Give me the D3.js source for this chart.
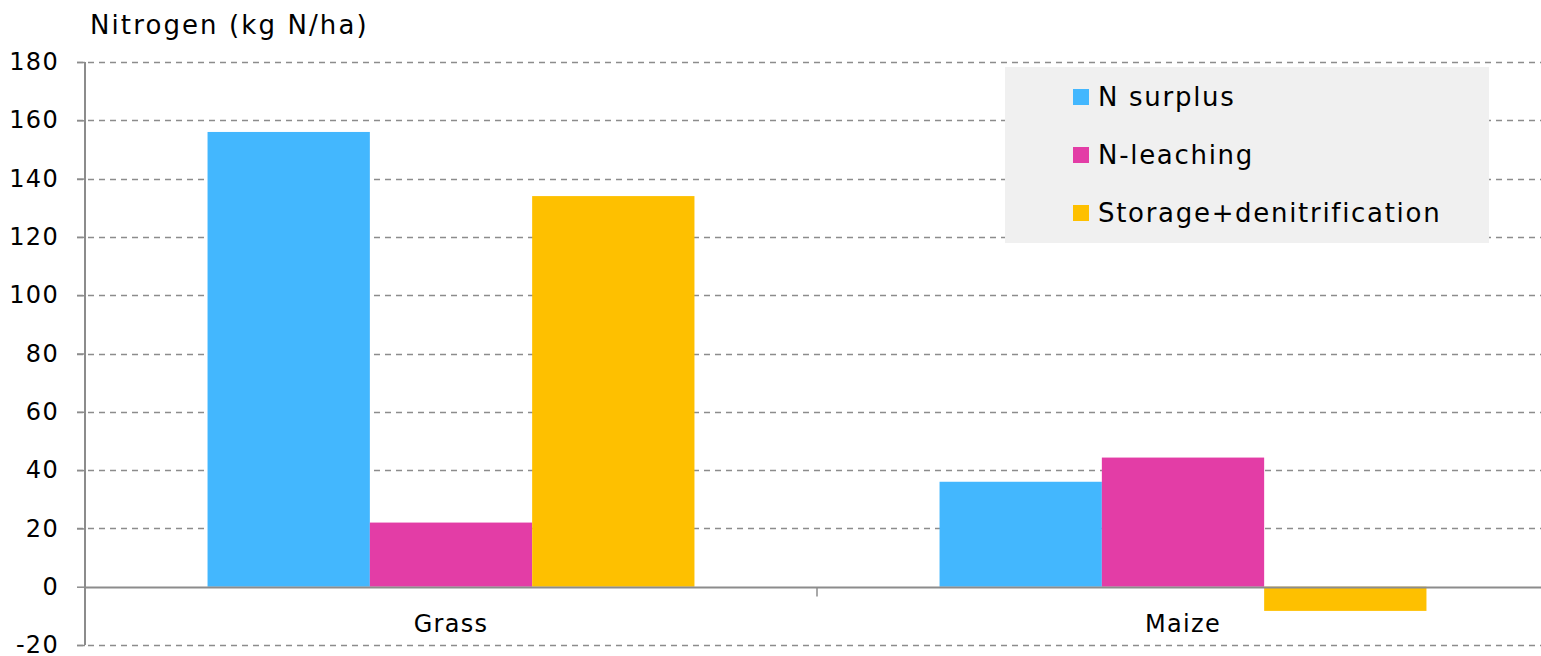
<!DOCTYPE html>
<html><head><meta charset="utf-8">
<script src="https://cdn.jsdelivr.net/npm/d3@7"></script>
<style>body{margin:0;background:#fff;} text{font-family:"DejaVu Sans",Verdana,sans-serif;fill:#000;}</style>
</head><body><svg id="c" width="1541" height="656"></svg>
<script>
const categories = ["Grass", "Maize"];
const seriesNames = ["N surplus", "N-leaching", "Storage+denitrification"];
const nSurplus = [156, 36];
const nLeaching = [22, 44.3];
const storageDenit = [134, -8.3];
const yTicks = [-20, 0, 20, 40, 60, 80, 100, 120, 140, 160, 180];
const colors = ["#43b7fe", "#e33da6", "#fec000"];
const yLabel = "Nitrogen (kg N/ha)";

const series = [nSurplus, nLeaching, storageDenit];
const svg = d3.select("#c");
const L = 85, R = 1549, T = 62, B = 645;
const y = d3.scaleLinear().domain([-20, 180]).range([B, T]);
const x = d3.scaleBand().domain(categories).range([L, R]).paddingInner(0).paddingOuter(0);
const x1 = d3.scaleBand().domain(seriesNames).range([0, x.bandwidth()]).paddingInner(0).paddingOuter(0.755);

// gridlines
svg.append("g").selectAll("line").data(yTicks.filter(d => d !== 0)).join("line")
  .attr("x1", L - 8).attr("x2", 1541).attr("y1", d => Math.round(y(d)) + 0.5).attr("y2", d => Math.round(y(d)) + 0.5)
  .attr("stroke", "#8c8c8c").attr("stroke-width", 1.5).attr("stroke-dasharray", "6,5");

// bars
const g = svg.append("g");
categories.forEach((c, i) => {
  series.forEach((s, j) => {
    const v = s[i];
    g.append("rect")
      .attr("x", x(c) + x1(seriesNames[j]))
      .attr("width", x1.bandwidth())
      .attr("y", y(Math.max(0, v)))
      .attr("height", Math.abs(y(v) - y(0)))
      .attr("fill", colors[j]);
  });
});

// y axis
const yAxis = d3.axisLeft(y).tickValues(yTicks).tickSize(8).tickPadding(18).tickFormat(d => String(d));
const ya = svg.append("g").attr("transform", `translate(${L},0)`).call(yAxis);
ya.select(".domain").attr("stroke", "#8c8c8c").attr("stroke-width", 2).attr("d", `M0,${T}V${B}`);
ya.selectAll(".tick line").attr("stroke", "#8c8c8c").attr("stroke-width", 1.5);
ya.selectAll(".tick text").style("font-size", "24px").style("letter-spacing", "1.3px").attr("fill", "#000");

// x axis at zero
const xa = svg.append("g").attr("transform", `translate(0,${Math.round(y(0)) + 0.5})`);
xa.append("line").attr("x1", L).attr("x2", 1541).attr("stroke", "#8c8c8c").attr("stroke-width", 2);
xa.append("line").attr("x1", x("Maize")).attr("x2", x("Maize")).attr("y1", 0).attr("y2", 9)
  .attr("stroke", "#8c8c8c").attr("stroke-width", 1.5);
xa.selectAll("text.cat").data(categories).join("text").attr("class", "cat")
  .attr("x", d => x(d) + x.bandwidth() / 2).attr("y", 36).attr("dominant-baseline", "central")
  .attr("text-anchor", "middle").style("font-size", "24px").style("letter-spacing", "1.3px").text(d => d);

// y label
svg.append("text").attr("x", 90).attr("y", 34).style("font-size", "26px").style("letter-spacing", "2.1px").text(yLabel);

// legend
const lg = svg.append("g");
lg.append("rect").attr("x", 1005).attr("y", 67).attr("width", 484).attr("height", 176).attr("fill", "#f0f0f0");
seriesNames.forEach((n, j) => {
  const cy = 97 + j * 58;
  lg.append("rect").attr("x", 1073).attr("y", cy - 8).attr("width", 16).attr("height", 16).attr("fill", colors[j]);
  lg.append("text").attr("x", 1098).attr("y", cy).attr("dominant-baseline", "central").style("font-size", "26px").style("letter-spacing", "1.7px").text(n);
});
</script></body></html>
